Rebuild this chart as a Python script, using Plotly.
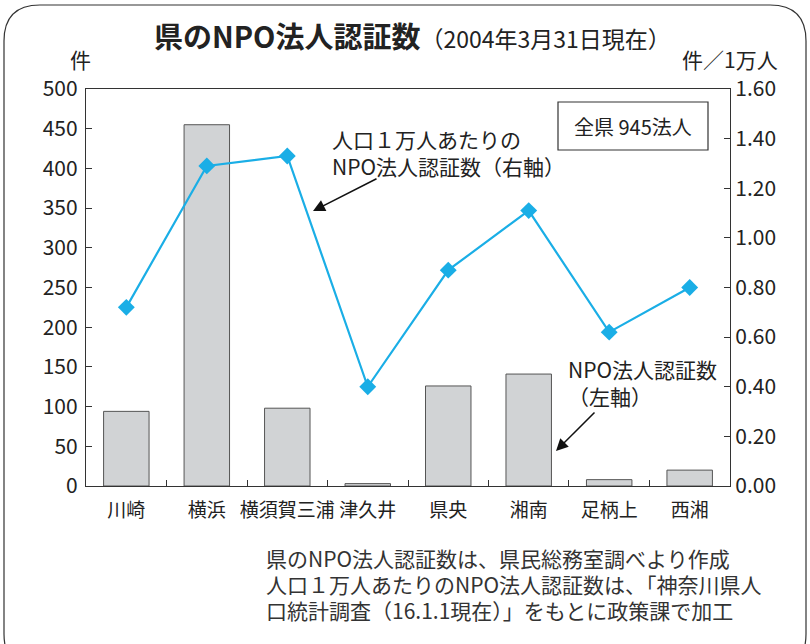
import plotly.graph_objects as go

categories = ["川崎", "横浜", "横須賀三浦", "津久井", "県央", "湘南", "足柄上", "西湘"]
counts = [94, 455, 98, 3, 126, 141, 8, 20]
per10k = [0.72, 1.29, 1.33, 0.40, 0.87, 1.11, 0.62, 0.80]
left_ticks = [0, 50, 100, 150, 200, 250, 300, 350, 400, 450, 500]
right_ticks = [0.0, 0.2, 0.4, 0.6, 0.8, 1.0, 1.2, 1.4, 1.6]
notes = [
    "県のNPO法人認証数は、県民総務室調べより作成",
    "人口１万人あたりのNPO法人認証数は、「神奈川県人",
    "口統計調査（16.1.1現在）」をもとに政策課で加工",
]

W, H = 810, 644
L, R, T, B = 86, 730, 89, 486
FONT = "Noto Sans CJK JP, Noto Sans, sans-serif"
TXT = "#222222"

def px(x):
    return (x - L) / (R - L)

def py(y):
    return (B - y) / (B - T)

fig = go.Figure()
fig.add_trace(go.Bar(
    x=categories, y=counts, yaxis="y",
    marker=dict(color="#d1d3d5", line=dict(color="#555555", width=1)),
    width=0.565, showlegend=False,
))
fig.add_trace(go.Scatter(
    x=categories, y=per10k, yaxis="y2", mode="lines+markers",
    line=dict(color="#1aaee6", width=2.2),
    marker=dict(symbol="diamond", size=13, color="#1aaee6"),
    showlegend=False,
))

# rounded outer frame
r = 36
x0, y0, x1, y1 = 4, 5, 806, 670
path = (f"M {px(x0)},{py(y0 + r)} Q {px(x0)},{py(y0)} {px(x0 + r)},{py(y0)} "
        f"L {px(x1 - r)},{py(y0)} Q {px(x1)},{py(y0)} {px(x1)},{py(y0 + r)} "
        f"L {px(x1)},{py(y1 - r)} Q {px(x1)},{py(y1)} {px(x1 - r)},{py(y1)} "
        f"L {px(x0 + r)},{py(y1)} Q {px(x0)},{py(y1)} {px(x0)},{py(y1 - r)} Z")
shapes = [
    dict(type="path", xref="paper", yref="paper", path=path,
         line=dict(color="#333333", width=1.2), layer="below"),
    dict(type="rect", xref="paper", yref="paper",
         x0=px(558), x1=px(708), y0=py(150), y1=py(102),
         line=dict(color="#333333", width=1.2), fillcolor="white"),
]

def txt(x, y, text, size=21, xanchor="center", align="center", color=TXT):
    return dict(xref="paper", yref="paper", x=px(x), y=py(y), showarrow=False,
                xanchor=xanchor, yanchor="middle", align=align, text=text,
                font=dict(size=size, color=color, family=FONT))

annotations = [
    txt(412, 35, "<b>県のNPO法人認証数</b><span style='font-size:23px'>（2004年3月31日現在）</span>",
        size=29),
    txt(80, 59, "件"),
    txt(730, 59, "件／1万人"),
    txt(633, 126, "全県 945法人", size=20),
    txt(330, 152, "人口１万人あたりの<br>NPO法人認証数（右軸）", xanchor="left", align="left"),
    txt(566, 382, "NPO法人認証数<br>（左軸）", xanchor="left", align="left"),
    dict(xref="paper", yref="paper", x=px(313), y=py(211), text="",
         showarrow=True, arrowhead=2, arrowsize=1.6, arrowwidth=1.5,
         arrowcolor="#111111", ax=65, ay=-33),
    dict(xref="paper", yref="paper", x=px(556), y=py(451), text="",
         showarrow=True, arrowhead=2, arrowsize=1.6, arrowwidth=1.5,
         arrowcolor="#111111", ax=40, ay=-40),
]
for i, line in enumerate(notes):
    annotations.append(txt(264, 558 + 26 * i, line, size=21,
                           xanchor="left", align="left", color="#333333"))

fig.update_layout(
    width=W, height=H,
    margin=dict(l=L, r=W - R, t=T, b=H - B, pad=0),
    paper_bgcolor="white", plot_bgcolor="white",
    font=dict(family=FONT, size=21, color=TXT),
    xaxis=dict(showline=True, linecolor="#333333", linewidth=1.2, mirror=True,
               ticks="inside", tickson="boundaries", ticklen=6,
               tickcolor="#333333", showgrid=False, tickangle=0,
               automargin=False, ticklabelstandoff=7,
               tickfont=dict(size=19, family=FONT, color=TXT)),
    yaxis=dict(range=[0, 500], tickvals=left_ticks, showline=True,
               linecolor="#333333", linewidth=1.2, ticks="inside", ticklen=6,
               tickcolor="#333333", showgrid=False, zeroline=False,
               automargin=False, ticklabelstandoff=3,
               tickfont=dict(size=21, family=FONT, color=TXT)),
    yaxis2=dict(range=[0, 1.6], tickvals=right_ticks, tickformat=".2f",
                overlaying="y", side="right", showline=True,
                linecolor="#333333", linewidth=1.2, ticks="inside", ticklen=6,
                tickcolor="#333333", showgrid=False, zeroline=False,
                automargin=False,
                tickfont=dict(size=21, family=FONT, color=TXT)),
    shapes=shapes,
    annotations=annotations,
)

fig.write_html("out.html", config={"displayModeBar": False},
               post_script="document.body.style.margin='0px';document.body.style.padding='0px';")
